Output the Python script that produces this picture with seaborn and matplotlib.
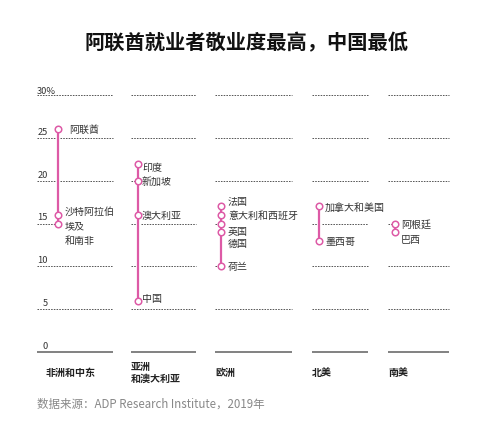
import matplotlib
matplotlib.use("Agg")
import matplotlib.pyplot as plt
import pandas as pd
import seaborn as sns

sns.set_theme(style="white")
plt.rcParams["font.family"] = ["Noto Sans CJK SC", "DejaVu Sans"]

MAGENTA = "#dd5aa6"
GRID = "#555555"
TEXT = "#333333"
DOTS = (0, (1.6, 1.2))

title = "阿联酋就业者敬业度最高，中国最低"
source = "数据来源：ADP Research Institute，2019年"

regions = ["非洲和中东", "亚洲\n和澳大利亚", "欧洲", "北美", "南美"]

africa_names = ["阿联酋", "沙特阿拉伯", "埃及\n和南非"]
africa_vals = [26, 16, 15]
asia_names = ["印度", "新加坡", "澳大利亚", "中国"]
asia_vals = [22, 20, 16, 6]
europe_names = ["法国", "意大利和西班牙", "英国", "德国", "荷兰"]
europe_vals = [17, 16, 15, 14, 10]
na_names = ["加拿大和美国", "墨西哥"]
na_vals = [17, 13]
sa_names = ["阿根廷", "巴西"]
sa_vals = [15, 14]

tick_vals = [0, 5, 10, 15, 20, 25, 30]
tick_labels = ["0", "5", "10", "15", "20", "25", "30%"]

# layout in pixels (figure is 500x431)
W, H = 500, 431
Y0, Y30 = 353, 96
panel_left = [37, 131, 215, 312, 388]
panel_w = [76, 65, 77, 56, 61]
line_off = [20.5, 7, 6, 7, 7]
label_dx = [7, 4, 7, 6, 6]
# vertical nudges of labels in pixels (positive = up)
label_dy = [[0, 4, 3], [-3, 0, 0, 3], [5, 0, -7, -11, 0], [0, 0], [0, -7]]
first_dx = {0: 12}

series = [
    (africa_names, africa_vals),
    (asia_names, asia_vals),
    (europe_names, europe_vals),
    (na_names, na_vals),
    (sa_names, sa_vals),
]

fig = plt.figure(figsize=(W / 100, H / 100), dpi=100)
PT = 0.72  # points per pixel

for i, (names, vals) in enumerate(series):
    w = panel_w[i]
    ax = fig.add_axes([panel_left[i] / W, (H - Y0) / H, w / W, (Y0 - Y30) / H])
    ax.set_xlim(0, w)
    ax.set_ylim(0, 30)
    ax.axis("off")
    xl = line_off[i]
    lo, hi = min(vals), max(vals)

    # dotted gridlines, broken where the range line crosses, hidden right of a point sitting on them
    for v in tick_vals[1:]:
        if v in vals:
            ax.hlines(v, 0, xl - 2, color=GRID, lw=0.7, linestyle=DOTS, clip_on=False)
        elif lo < v < hi:
            ax.hlines(v, 0, xl - 2.5, color=GRID, lw=0.7, linestyle=DOTS, clip_on=False)
            ax.hlines(v, xl + 2.5, w, color=GRID, lw=0.7, linestyle=DOTS, clip_on=False)
        else:
            ax.hlines(v, 0, w, color=GRID, lw=0.7, linestyle=DOTS, clip_on=False)
    ax.hlines(0, 0, w, color="#777777", lw=1.3, clip_on=False)

    df = pd.DataFrame({"x": [xl] * len(vals), "y": vals, "name": names})
    ax.plot([xl, xl], [lo, hi], color=MAGENTA, lw=1.6, zorder=3, solid_capstyle="butt")
    sns.scatterplot(data=df, x="x", y="y", ax=ax, marker="o", s=22, color="white",
                    edgecolor=MAGENTA, linewidth=1.1, zorder=4, clip_on=False, legend=False)

    for j, (n, v) in enumerate(zip(names, vals)):
        dx = first_dx.get(i, label_dx[i]) if j == 0 else label_dx[i]
        va = "top" if "\n" in n else "center"
        ax.annotate(n, (xl, v), xytext=(dx * PT, label_dy[i][j] * PT), textcoords="offset points",
                    ha="left", va=va, fontsize=7.2, color=TEXT, linespacing=1.5, zorder=5)

    if i == 0:
        for v, t in zip(tick_vals, tick_labels):
            if t.endswith("%"):
                ax.text(0, v, t, ha="left", va="bottom", fontsize=6.7, color=TEXT)
            else:
                ax.annotate(t, (11, v), xytext=(0, 1.5), textcoords="offset points",
                            ha="right", va="bottom", fontsize=6.7, color=TEXT)

    rx = panel_left[i] + (9 if i == 0 else 0)
    fig.text(rx / W, 1 - 373 / H, regions[i], ha="left", va="center", fontsize=7.2,
             fontweight="bold", color="#222222", linespacing=1.3)

fig.text(246 / W, 1 - 43 / H, title, ha="center", va="center", fontsize=14.6,
         fontweight="bold", color="#111111")
fig.text(37 / W, 1 - 404 / H, source, ha="left", va="center", fontsize=8.3, color="#888888")

fig.savefig("out.png", dpi=100, facecolor="white")
